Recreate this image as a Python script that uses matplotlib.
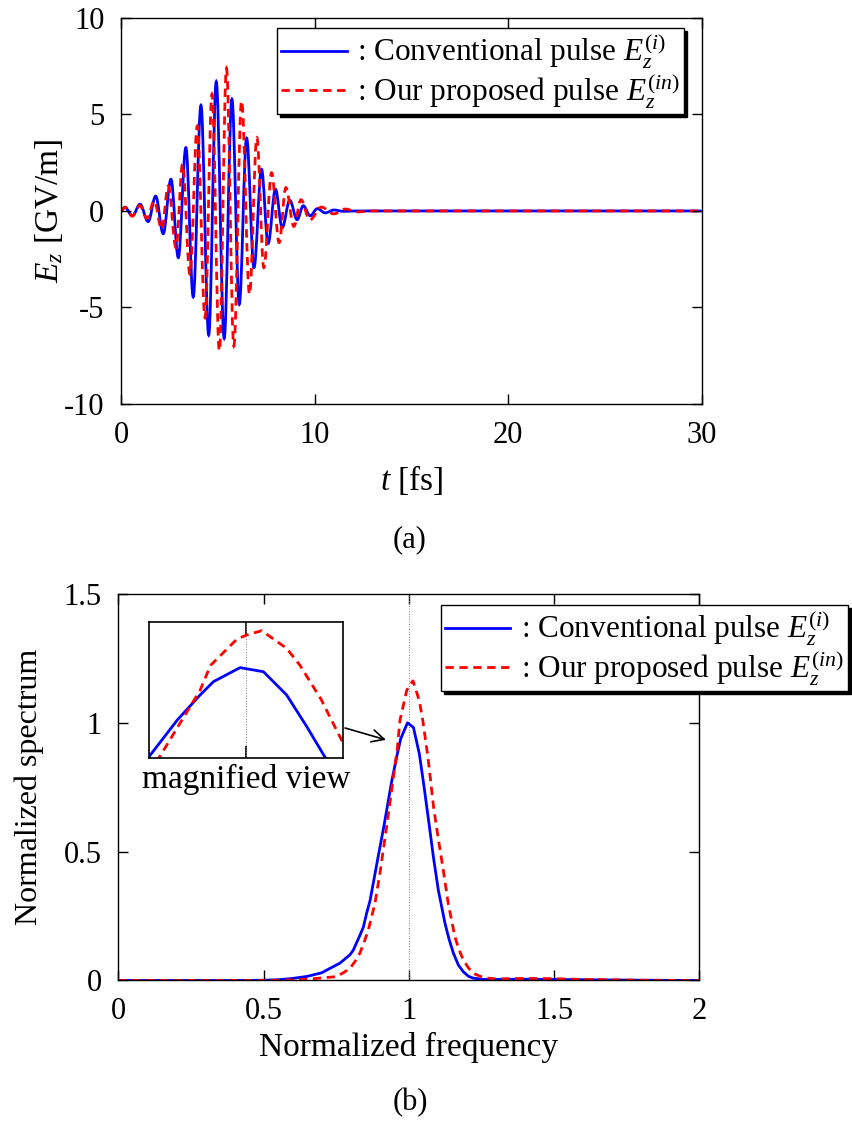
import matplotlib
matplotlib.use("Agg")
import matplotlib.pyplot as plt
from matplotlib.path import Path
from matplotlib.patches import PathPatch
from matplotlib.lines import Line2D
from matplotlib.ticker import FormatStrFormatter

plt.rcParams["font.family"] = ["Liberation Serif", "DejaVu Serif"]
plt.rcParams["mathtext.fontset"] = "custom"
plt.rcParams["mathtext.rm"] = "Liberation Serif"
plt.rcParams["mathtext.it"] = "Liberation Serif:italic"
plt.rcParams["axes.unicode_minus"] = False

# (a) field turning points: time [fs] and E_z [GV/m]
t_conv = [0, 0.2, 0.59, 0.98, 1.4, 1.79, 2.18, 2.58, 2.96, 3.35, 3.73, 4.13,
          4.53, 4.92, 5.33, 5.73, 6.11, 6.49, 6.87, 7.26, 7.6, 7.98, 8.33,
          8.72, 9.1, 9.42, 9.77, 10.15, 10.55, 11.0, 11.5, 12.2, 30]
e_conv = [0.05, 0.18, -0.25, 0.35, -0.55, 0.77, -1.18, 1.64, -2.42, 3.28,
          -4.46, 5.47, -6.43, 6.70, -6.6, 5.79, -4.84, 3.77, -2.94, 2.16,
          -1.69, 1.12, -0.86, 0.55, -0.45, 0.27, -0.25, 0.12, -0.1, 0.05,
          -0.02, 0, 0]

t_prop = [0, 0.21, 0.58, 0.97, 1.34, 1.72, 2.1, 2.44, 2.84, 3.18, 3.56, 3.94,
          4.34, 4.70, 5.08, 5.45, 5.83, 6.23, 6.64, 7.02, 7.38, 7.78, 8.17,
          8.52, 8.93, 9.3, 9.75, 10.35, 11.0, 11.6, 12.2, 12.9, 30]
e_prop = [0, 0.2, -0.27, 0.28, -0.38, 0.52, -0.95, 1.3, -1.9, 2.42, -3.28,
          4.4, -5.53, 6.05, -7.25, 7.39, -7.0, 5.7, -4.32, 3.8, -2.94, 1.98,
          -1.64, 1.21, -0.8, 0.58, -0.47, 0.2, -0.15, 0.1, -0.05, 0, 0]

# (b) normalized spectra
f_conv = [0, 0.4, 0.5, 0.55, 0.6, 0.65, 0.7, 0.728, 0.762, 0.797, 0.808,
          0.831, 0.843, 0.854, 0.866, 0.877, 0.894, 0.915, 0.94, 0.9598,
          0.9715, 0.9949, 1.0154, 1.0358, 1.0534, 1.070, 1.084, 1.101, 1.124,
          1.138, 1.153, 1.17, 1.187, 1.204, 1.221, 1.26, 1.4, 1.6, 1.8, 2.0]
s_conv = [0, 0, 0.001, 0.003, 0.008, 0.016, 0.03, 0.047, 0.067, 0.1, 0.117,
          0.175, 0.207, 0.26, 0.31, 0.377, 0.481, 0.607, 0.77, 0.879, 0.938,
          1.0, 0.982, 0.879, 0.74, 0.6, 0.48, 0.351, 0.222, 0.16, 0.106,
          0.06, 0.034, 0.017, 0.009, 0.004, 0.005, 0.003, 0.001, 0]

f_prop = [0, 0.5, 0.6, 0.65, 0.7, 0.751, 0.774, 0.797, 0.815, 0.831, 0.846,
          0.86, 0.872, 0.883, 0.900, 0.9247, 0.9598, 0.969, 0.992, 1.0007,
          1.0139, 1.0358, 1.0475, 1.066, 1.085, 1.101, 1.118, 1.135, 1.158,
          1.172, 1.187, 1.204, 1.221, 1.256, 1.3, 1.4, 1.5, 1.6, 1.8, 2.0]
s_prop = [0, 0, 0.002, 0.005, 0.01, 0.015, 0.03, 0.047, 0.075, 0.106, 0.15,
          0.196, 0.25, 0.30, 0.416, 0.61, 0.90, 1.01, 1.125, 1.144, 1.163,
          1.085, 1.01, 0.86, 0.67, 0.55, 0.429, 0.30, 0.17, 0.12, 0.08, 0.05,
          0.028, 0.011, 0.006, 0.008, 0.007, 0.004, 0.001, 0]

labels = [": Conventional pulse $E_z^{(i)}$",
          ": Our proposed pulse $E_z^{(in)}$"]

BLUE = "#0000ff"
RED = "#ff0000"
DASH = (0, (3, 2))
LW = 2.0


def wave_path(ts, es):
    # cubic segments with flat tangents at each turning point
    verts = [(ts[0], es[0])]
    codes = [Path.MOVETO]
    for i in range(1, len(ts)):
        t0, e0, t1, e1 = ts[i - 1], es[i - 1], ts[i], es[i]
        dt = t1 - t0
        verts += [(t0 + 0.36 * dt, e0), (t1 - 0.36 * dt, e1), (t1, e1)]
        codes += [Path.CURVE4] * 3
    return Path(verts, codes)


def style_ticks(ax, size=22):
    ax.tick_params(direction="in", top=True, right=True, length=7, width=1,
                   labelsize=size, pad=12)
    for sp in ax.spines.values():
        sp.set_linewidth(1.0)


def add_legend(ax, anchor):
    handles = [Line2D([], [], color=BLUE, lw=LW),
               Line2D([], [], color=RED, lw=LW, ls=DASH)]
    leg = ax.legend(handles, labels, loc="upper right", bbox_to_anchor=anchor,
                    borderaxespad=0, fontsize=22.5, handlelength=2.1,
                    handletextpad=0.35, labelspacing=0.0, borderpad=0.12,
                    fancybox=False, framealpha=1, edgecolor="black",
                    shadow={"color": "black", "alpha": 1})
    leg.get_frame().set_linewidth(1.0)
    return leg


fig = plt.figure(figsize=(8.53, 11.36), dpi=100)

# ---- (a) time-domain waveform ----
ax1 = fig.add_axes([0.1419, 0.6444, 0.6805, 0.3398])
ax1.add_patch(PathPatch(wave_path(t_conv, e_conv), fill=False,
                        edgecolor=BLUE, lw=LW))
ax1.add_patch(PathPatch(wave_path(t_prop, e_prop), fill=False,
                        edgecolor=RED, lw=LW, linestyle=DASH))
ax1.set_xlim(0, 30)
ax1.set_ylim(-10, 10)
ax1.set_xticks([0, 10, 20, 30])
ax1.set_yticks([-10, -5, 0, 5, 10])
style_ticks(ax1)
ax1.set_xlabel("$t$ [fs]", fontsize=24)
ax1.set_ylabel("$E_z$ [GV/m]", fontsize=24)
ax1.xaxis.set_label_coords(0.5, -0.152)
ax1.yaxis.set_label_coords(-0.097, 0.5)
add_legend(ax1, (0.970, 0.974))

# ---- (b) spectrum ----
ax2 = fig.add_axes([0.1389, 0.1369, 0.6811, 0.3402])
ax2.axvline(1.0, color="gray", lw=0.7, ls=":")
ax2.plot(f_conv, s_conv, color=BLUE, lw=LW)
ax2.plot(f_prop, s_prop, color=RED, lw=LW, ls=DASH)
ax2.set_xlim(0, 2)
ax2.set_ylim(0, 1.5)
ax2.set_xticks([0, 0.5, 1, 1.5, 2])
ax2.set_yticks([0, 0.5, 1, 1.5])
ax2.xaxis.set_major_formatter(FormatStrFormatter("%g"))
ax2.yaxis.set_major_formatter(FormatStrFormatter("%g"))
style_ticks(ax2)
ax2.set_xlabel("Normalized frequency", fontsize=24)
ax2.set_ylabel("Normalized spectrum", fontsize=23)
ax2.xaxis.set_label_coords(0.5, -0.132)
ax2.yaxis.set_label_coords(-0.128, 0.5)
add_legend(ax2, (1.2556, 0.9715))

ax2.annotate("", xy=(0.921, 0.934), xytext=(0.78, 0.98),
             arrowprops=dict(arrowstyle="->", lw=1.2, color="black",
                             mutation_scale=22, shrinkA=0, shrinkB=0))

# magnified inset around the peak
axin = fig.add_axes([0.1747, 0.3325, 0.2271, 0.1197])
axin.axvline(1.0, color="gray", lw=0.7, ls=":")
axin.plot(f_conv, s_conv, color=BLUE, lw=LW)
axin.plot(f_prop, s_prop, color=RED, lw=LW, ls=DASH)
axin.set_xlim(0.915, 1.085)
axin.set_ylim(0.6, 1.2)
axin.set_xticks([1.0])
axin.set_yticks([])
axin.tick_params(direction="in", top=True, length=9, width=1.2,
                 labelbottom=False)
for sp in axin.spines.values():
    sp.set_linewidth(1.2)
fig.text(246 / 853, 1 - 779 / 1136, "magnified view", fontsize=24,
         ha="center", va="center")

fig.text(410 / 853, 1 - 540 / 1136, "(a)", fontsize=22, ha="center",
         va="center")
fig.text(410 / 853, 1 - 1103 / 1136, "(b)", fontsize=22, ha="center",
         va="center")

fig.savefig("out.png", dpi=100)
